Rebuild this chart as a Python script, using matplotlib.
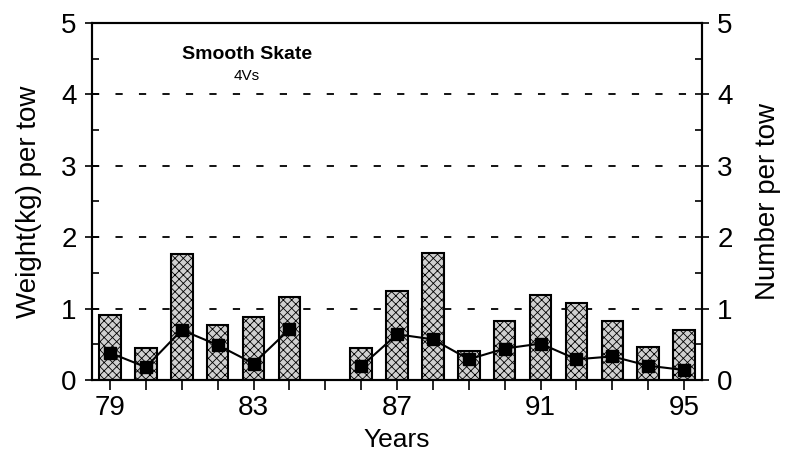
import numpy as np
import matplotlib.pyplot as plt
from matplotlib.ticker import MultipleLocator

plt.rcParams['font.family'] = ['Liberation Sans', 'DejaVu Sans']
plt.rcParams['hatch.linewidth'] = 0.6

# weight (kg) per tow, bars
bar_years = [79, 80, 81, 82, 83, 84, 86, 87, 88, 89, 90, 91, 92, 93, 94, 95]
weight = [0.91, 0.45, 1.76, 0.77, 0.88, 1.16, 0.45, 1.24, 1.78, 0.41, 0.82, 1.19, 1.08, 0.83, 0.46, 0.70]

# number per tow, line (85 missing)
line_years = list(range(79, 96))
number = [0.38, 0.18, 0.70, 0.49, 0.23, 0.71, np.nan, 0.19, 0.64, 0.57, 0.29, 0.44, 0.51, 0.29, 0.33, 0.20, 0.14]

xticks = [79, 83, 87, 91, 95]

fig = plt.figure(figsize=(7.87, 4.57), dpi=100)
ax = fig.add_axes([0.117, 0.1685, 0.775, 0.7812])
ax2 = ax.twinx()

ax.bar(bar_years, weight, width=0.6, facecolor='#d0d0d0', edgecolor='black',
       linewidth=1.5, hatch='xxxx', zorder=2)
ax2.plot(line_years, number, color='black', lw=1.5, marker='s', ms=8, zorder=3)

for y in [1, 2, 3, 4]:
    ax.axhline(y, color='black', lw=1.3, ls=(0, (4, 9)), zorder=1)

ax.set_xlim(78.5, 95.5)
ax.set_ylim(0, 5)
ax2.set_ylim(0, 5)
ax.set_xticks(xticks)
ax.xaxis.set_minor_locator(MultipleLocator(1))
for a in (ax, ax2):
    a.yaxis.set_major_locator(MultipleLocator(1))
    a.yaxis.set_minor_locator(MultipleLocator(0.5))
    a.tick_params(axis='y', which='major', direction='inout', length=10, width=1.2, labelsize=20)
    a.tick_params(axis='y', which='minor', direction='in', length=5, width=1.2)
    for s in a.spines.values():
        s.set_linewidth(1.5)
ax.tick_params(axis='x', which='both', direction='out', length=7, width=1.2, labelsize=20)
ax.tick_params(axis='y', pad=6)
ax2.tick_params(axis='y', pad=6)

ax.set_xlabel('Years', fontsize=19, labelpad=5)
ax.set_ylabel('Weight(kg) per tow', fontsize=20, labelpad=14)
ax2.set_ylabel('Number per tow', fontsize=20, labelpad=16)

ax.text(0.254, 0.913, 'Smooth Skate', transform=ax.transAxes, fontsize=14,
        fontweight='bold', ha='center', va='center')
ax.text(0.254, 0.852, '4Vs', transform=ax.transAxes, fontsize=11,
        ha='center', va='center')

fig.savefig('out.png', dpi=100)
